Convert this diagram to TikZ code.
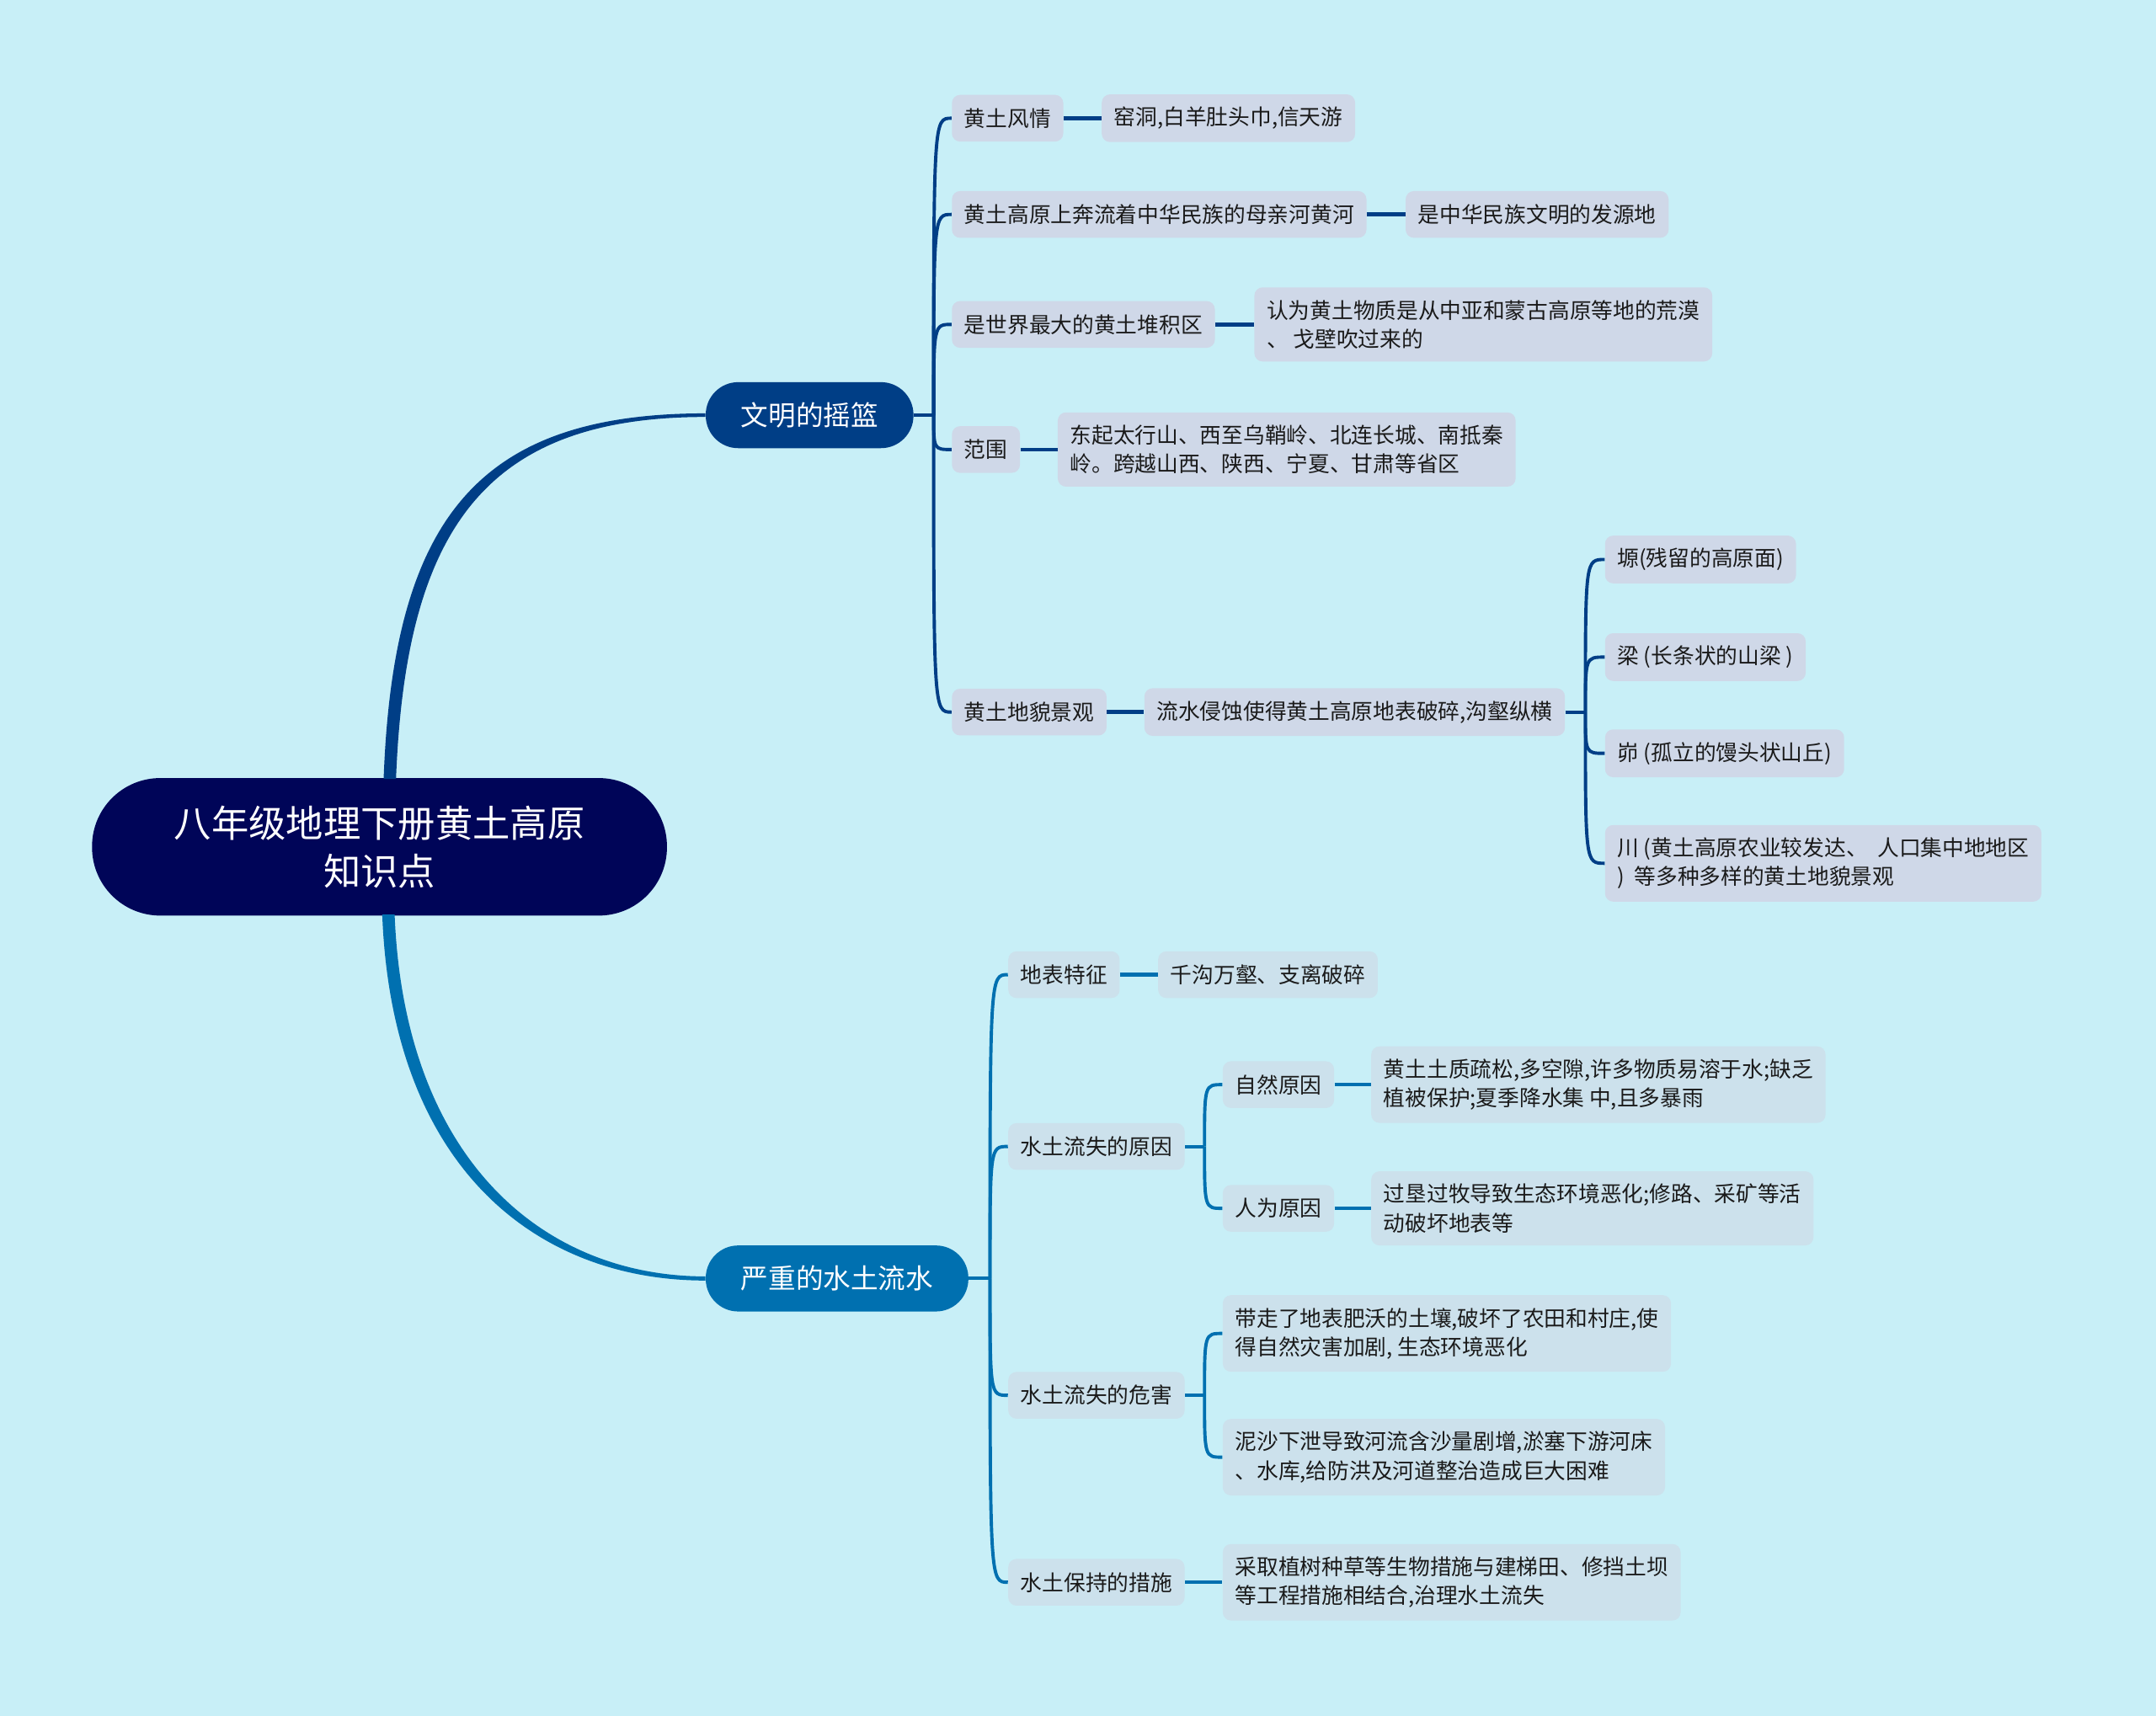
\documentclass[tikz,border=0pt]{standalone}
\usepackage{fontspec}
\setmainfont{Noto Sans CJK SC}
\usepackage{tikz}
\usetikzlibrary{calc}
\definecolor{pagecyan}{HTML}{C8EFF7}
\definecolor{rootnavy}{HTML}{000558}
\definecolor{cradleblue}{HTML}{003E86}
\definecolor{erosionblue}{HTML}{0070B0}
\definecolor{cradlegray}{HTML}{CFD8E8}
\definecolor{erosiongray}{HTML}{CCE1EC}
\definecolor{leafink}{HTML}{1A1A1A}
\tikzset{
  rootbox/.style={fill=rootnavy,text=white,rounded corners=1.24cm,align=center,
    minimum width=10.45cm,minimum height=2.5cm,font=\fontsize{19.3pt}{24.8pt}\selectfont},
  branchbox/.style={anchor=west,text=white,rounded corners=0.59cm,inner xsep=0.64cm,
    minimum height=1.2cm,font=\fontsize{14.2pt}{17pt}\selectfont},
  leafbox/.style={anchor=west,text=leafink,rounded corners=0.15cm,align=left,
    inner xsep=0.225cm,inner ysep=0.23cm,minimum height=0.85cm,
    font=\fontsize{11.2pt}{14.9pt}\selectfont},
  cradleleaf/.style={leafbox,fill=cradlegray},
  erosionleaf/.style={leafbox,fill=erosiongray},
  twig/.style={line width=1.7pt},
  stem/.style={line width=2pt}
}

\begin{document}
\begin{tikzpicture}[x=0.025cm,y=-0.025cm]
  \fill[pagecyan] (0,0) rectangle (1568,1248);

  \node[rootbox] (root) at (276,616) {八年级地理下册黄土高原\\知识点};
  \node[branchbox,fill=cradleblue] (cradle) at (513,302) {文明的摇篮};
  \node[branchbox,fill=erosionblue] (erosion) at (513,930) {严重的水土流水};

  % tapered limbs out of the root
  \fill[cradleblue] ($(root.north)+(3,1)$) .. controls +(7,-190) and +(-165,0) .. ($(cradle.west)+(0,-1.3)$)
    -- ($(cradle.west)+(0,1.3)$) .. controls +(-160,0) and +(7,-182) .. ($(root.north)+(12,1)$) -- cycle;
  \fill[erosionblue] ($(root.south)+(2,-1)$) .. controls +(7,184) and +(-123,0) .. ($(erosion.west)+(0,1.5)$)
    -- ($(erosion.west)+(0,-1.5)$) .. controls +(-118,0) and +(7,178) .. ($(root.south)+(11,-1)$) -- cycle;

  % 文明的摇篮
  \node[cradleleaf] (fengqing) at (692,86) {黄土风情};
  \node[cradleleaf] (fengqingnote) at (801,86) {窑洞,白羊肚头巾,信天游};
  \node[cradleleaf] (huanghe) at (692,156) {黄土高原上奔流着中华民族的母亲河黄河};
  \node[cradleleaf] (huanghenote) at (1022,156) {是中华民族文明的发源地};
  \node[cradleleaf] (duiji) at (692,236) {是世界最大的黄土堆积区};
  \node[cradleleaf] (duijinote) at (912,236) {认为黄土物质是从中亚和蒙古高原等地的荒漠\\、 戈壁吹过来的};
  \node[cradleleaf] (fanwei) at (692,327) {范围};
  \node[cradleleaf] (fanweinote) at (769,327) {东起太行山、西至乌鞘岭、北连长城、南抵秦\\岭。跨越山西、陕西、宁夏、甘肃等省区};
  \node[cradleleaf] (dimao) at (692,518) {黄土地貌景观};
  \node[cradleleaf] (dimaonote) at (832,518) {流水侵蚀使得黄土高原地表破碎,沟壑纵横};
  \node[cradleleaf] (yuan) at (1167,407) {塬(残留的高原面)};
  \node[cradleleaf] (liang) at (1167,478) {梁 (长条状的山梁 )};
  \node[cradleleaf] (mao) at (1167,548) {峁 (孤立的馒头状山丘)};
  \node[cradleleaf] (chuan) at (1167,628) {川 (黄土高原农业较发达、\ \ 人口集中地地区\\) \ 等多种多样的黄土地貌景观};

  \coordinate (cradlefork) at ($(fengqing.west |- cradle.east)+(-13,0)$);
  \draw[twig,cradleblue] (cradle.east) -- (cradlefork);
  \foreach \leaf in {fengqing,huanghe,duiji,fanwei,dimao}
    \draw[twig,cradleblue] (cradlefork) .. controls (cradlefork |- \leaf.west) .. (\leaf.west);
  \draw[stem,cradleblue] (fengqing.east) -- (fengqingnote.west);
  \draw[stem,cradleblue] (huanghe.east) -- (huanghenote.west);
  \draw[stem,cradleblue] (duiji.east) -- (duijinote.west);
  \draw[stem,cradleblue] (fanwei.east) -- (fanweinote.west);
  \draw[stem,cradleblue] (dimao.east) -- (dimaonote.west);
  \coordinate (landfork) at ($(yuan.west |- dimaonote.east)+(-14,0)$);
  \draw[twig,cradleblue] (dimaonote.east) -- (landfork);
  \foreach \leaf in {yuan,liang,mao,chuan}
    \draw[twig,cradleblue] (landfork) .. controls (landfork |- \leaf.west) .. (\leaf.west);

  % 严重的水土流水
  \node[erosionleaf] (dibiao) at (733,709) {地表特征};
  \node[erosionleaf] (dibiaonote) at (842,709) {千沟万壑、支离破碎};
  \node[erosionleaf] (yuanyin) at (733,834) {水土流失的原因};
  \node[erosionleaf] (ziran) at (889,789) {自然原因};
  \node[erosionleaf] (ziranote) at (997,789) {黄土土质疏松,多空隙,许多物质易溶于水;缺乏\\植被保护;夏季降水集 中,且多暴雨};
  \node[erosionleaf] (renwei) at (889,879) {人为原因};
  \node[erosionleaf] (renweinote) at (997,879) {过垦过牧导致生态环境恶化;修路、采矿等活\\动破坏地表等};
  \node[erosionleaf] (weihai) at (733,1015) {水土流失的危害};
  \node[erosionleaf] (soilloss) at (889,970) {带走了地表肥沃的土壤,破坏了农田和村庄,使\\得自然灾害加剧, 生态环境恶化};
  \node[erosionleaf] (silting) at (889,1060) {泥沙下泄导致河流含沙量剧增,淤塞下游河床\\、水库,给防洪及河道整治造成巨大困难};
  \node[erosionleaf] (cuoshi) at (733,1151) {水土保持的措施};
  \node[erosionleaf] (cuoshinote) at (889,1151) {采取植树种草等生物措施与建梯田、修挡土坝\\等工程措施相结合,治理水土流失};

  \coordinate (erosionfork) at ($(dibiao.west |- erosion.east)+(-13,0)$);
  \draw[twig,erosionblue] (erosion.east) -- (erosionfork);
  \foreach \leaf in {dibiao,yuanyin,weihai,cuoshi}
    \draw[twig,erosionblue] (erosionfork) .. controls (erosionfork |- \leaf.west) .. (\leaf.west);
  \draw[stem,erosionblue] (dibiao.east) -- (dibiaonote.west);
  \coordinate (causefork) at ($(ziran.west |- yuanyin.east)+(-13,0)$);
  \draw[twig,erosionblue] (yuanyin.east) -- (causefork);
  \foreach \leaf in {ziran,renwei}
    \draw[twig,erosionblue] (causefork) .. controls (causefork |- \leaf.west) .. (\leaf.west);
  \draw[stem,erosionblue] (ziran.east) -- (ziranote.west);
  \draw[stem,erosionblue] (renwei.east) -- (renweinote.west);
  \coordinate (harmfork) at ($(soilloss.west |- weihai.east)+(-13,0)$);
  \draw[twig,erosionblue] (weihai.east) -- (harmfork);
  \foreach \leaf in {soilloss,silting}
    \draw[twig,erosionblue] (harmfork) .. controls (harmfork |- \leaf.west) .. (\leaf.west);
  \draw[stem,erosionblue] (cuoshi.east) -- (cuoshinote.west);
\end{tikzpicture}
\end{document}
